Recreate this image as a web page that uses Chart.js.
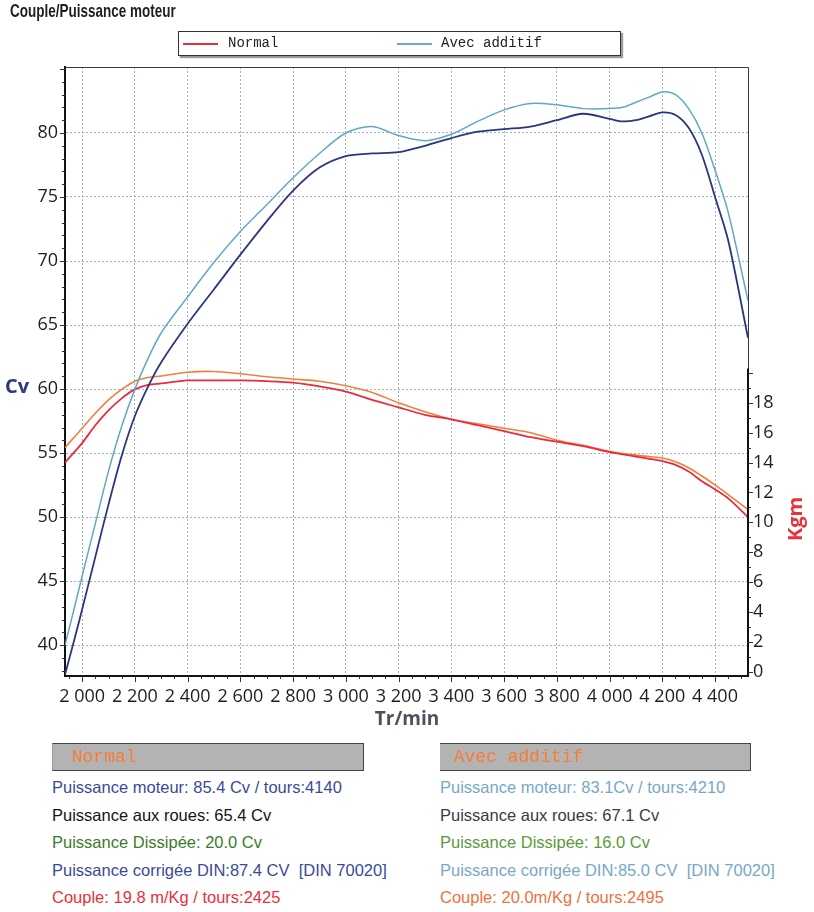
<!DOCTYPE html>
<html lang="fr">
<head>
<meta charset="utf-8">
<title>Couple/Puissance moteur</title>
<script src="https://cdn.jsdelivr.net/npm/chart.js@4.4.1/dist/chart.umd.min.js"></script>
<style>
  body { margin: 0; background: #fff; width: 814px; height: 912px; position: relative; overflow: hidden; font-family: "Liberation Sans", Arial, sans-serif; }
  #wrap { position: absolute; left: 0; top: 0; width: 814px; height: 740px; }
  #titre { position: absolute; left: 10px; top: 0px; font: bold 19px "Liberation Sans", sans-serif; color: #1e1e1e; transform: scaleX(0.71); transform-origin: left top; white-space: nowrap; }
  #legende { position: absolute; left: 178px; top: 31px; width: 441px; height: 23px; border: 1px solid #333; box-shadow: 2px 2px 1px #999; background: #fff; font: 14px "Liberation Mono", monospace; color: #222; }
  #legende .trait { position: absolute; top: 11px; width: 35px; height: 2px; }
  #legende .nom { position: absolute; top: 3px; }
  .bloc { position: absolute; top: 743px; width: 380px; }
  .entete { height: 26px; width: 310px; background: #b3b3b3; border: 1px solid #444; border-left-color: #999; font: 18px "Liberation Mono", monospace; color: #f5803a; line-height: 26px; }
  .ligne { font-size: 16.5px; line-height: 27.5px; white-space: nowrap; }
</style>
</head>
<body>
<div id="wrap"><canvas id="graphe"></canvas></div>
<div id="titre">Couple/Puissance moteur</div>
<div id="legende">
  <div class="trait" style="left:4px;background:#e8303c"></div><div class="nom" style="left:49px">Normal</div>
  <div class="trait" style="left:218px;background:#6ea9c8"></div><div class="nom" style="left:262px">Avec additif</div>
</div>
<div class="bloc" style="left:52px">
  <div class="entete"><span style="margin-left:19px">Normal</span></div>
  <div class="ligne" style="color:#3b4a98;margin-top:3px">Puissance moteur: 85.4 Cv / tours:4140</div>
  <div class="ligne" style="color:#141414">Puissance aux roues: 65.4 Cv</div>
  <div class="ligne" style="color:#3d7a2c">Puissance Dissipée: 20.0 Cv</div>
  <div class="ligne" style="color:#3b4a98">Puissance corrigée DIN:87.4 CV&nbsp; [DIN 70020]</div>
  <div class="ligne" style="color:#e8303c">Couple: 19.8 m/Kg / tours:2425</div>
</div>
<div class="bloc" style="left:440px">
  <div class="entete" style="border-left:none"><span style="margin-left:14px">Avec additif</span></div>
  <div class="ligne" style="color:#78a8c6;margin-top:3px">Puissance moteur: 83.1Cv / tours:4210</div>
  <div class="ligne" style="color:#3a3a48">Puissance aux roues: 67.1 Cv</div>
  <div class="ligne" style="color:#5a9a3a">Puissance Dissipée: 16.0 Cv</div>
  <div class="ligne" style="color:#78a8c6">Puissance corrigée DIN:85.0 CV&nbsp; [DIN 70020]</div>
  <div class="ligne" style="color:#f07040">Couple: 20.0m/Kg / tours:2495</div>
</div>
<script>
// regimes (tr/min)
const rpm = [1935, 1975, 2000, 2050, 2100, 2150, 2200, 2250, 2300, 2400, 2500, 2600, 2700, 2800, 2900, 3000,
  3100, 3200, 3300, 3400, 3500, 3600, 3700, 3800, 3900, 4000, 4050, 4100, 4150, 4200, 4250, 4300, 4350, 4400, 4450, 4525];

// puissance (Cv)
const puissanceNormal = [37.7, 40.8, 42.8, 46.9, 51.0, 54.8, 57.9, 60.2, 62.1, 65.1, 67.8, 70.5, 73.1, 75.5, 77.3, 78.2,
  78.4, 78.5, 79.0, 79.6, 80.1, 80.3, 80.5, 81.0, 81.5, 81.1, 80.9, 81.0, 81.3, 81.6, 81.4, 80.4, 78.3, 75.0, 71.6, 64.0];
const puissanceAdditif = [40.0, 43.3, 45.4, 49.5, 53.6, 57.1, 60.0, 62.4, 64.4, 67.2, 69.9, 72.3, 74.4, 76.5, 78.4, 80.0,
  80.5, 79.8, 79.4, 79.9, 80.9, 81.8, 82.3, 82.2, 81.9, 81.9, 82.0, 82.4, 82.8, 83.2, 83.0, 81.9, 80.0, 77.1, 73.8, 66.9];

// couple (Kgm)
const coupleNormal = [14.0, 14.8, 15.3, 16.5, 17.5, 18.3, 18.9, 19.2, 19.3, 19.5, 19.5, 19.5, 19.45, 19.35, 19.1, 18.75,
  18.2, 17.7, 17.2, 16.9, 16.5, 16.1, 15.7, 15.4, 15.1, 14.7, 14.55, 14.4, 14.25, 14.1, 13.85, 13.4, 12.75, 12.2, 11.6, 10.35];
const coupleAdditif = [15.0, 15.8, 16.3, 17.3, 18.2, 18.9, 19.45, 19.7, 19.8, 20.05, 20.1, 19.95, 19.75, 19.6, 19.45, 19.15,
  18.7, 18.0, 17.4, 16.9, 16.6, 16.3, 16.0, 15.5, 15.15, 14.75, 14.6, 14.5, 14.4, 14.3, 14.05, 13.65, 13.1, 12.5, 11.85, 10.85];

const rpmTicks = [2000, 2200, 2400, 2600, 2800, 3000, 3200, 3400, 3600, 3800, 4000, 4200, 4400];
const cvTicks = [40, 45, 50, 55, 60, 65, 70, 75, 80];
const kgmTicks = [0, 2, 4, 6, 8, 10, 12, 14, 16, 18];

const pts = arr => rpm.map((r, i) => ({ x: r, y: arr[i] }));
const milliers = v => String(v).replace(/\B(?=(\d{3})+$)/, ' ');

const decor = {
  id: 'decor',
  afterDraw(chart) {
    const { ctx, chartArea: a, scales } = chart;
    const x = scales.x, y = scales.y, y1 = scales.y1;
    ctx.save();
    // cadre haut et droite
    ctx.strokeStyle = '#3a3a3a';
    ctx.lineWidth = 1;
    ctx.beginPath();
    ctx.moveTo(a.left, a.top + 0.5);
    ctx.lineTo(a.right + 0.5, a.top + 0.5);
    ctx.lineTo(a.right + 0.5, a.bottom);
    ctx.stroke();
    // axe Kgm
    ctx.strokeStyle = '#111';
    ctx.lineWidth = 2;
    ctx.beginPath();
    ctx.moveTo(a.right, y1.getPixelForValue(20.3));
    ctx.lineTo(a.right, a.bottom);
    ctx.stroke();
    // petites graduations
    ctx.lineWidth = 1;
    ctx.strokeStyle = '#333';
    ctx.beginPath();
    for (let v = 38; v <= 85; v++) {
      const py = Math.round(y.getPixelForValue(v)) + 0.5;
      const len = v % 5 === 0 ? 5 : 3;
      ctx.moveTo(a.left - len, py); ctx.lineTo(a.left, py);
    }
    for (let v = 0; v <= 20; v++) {
      const py = Math.round(y1.getPixelForValue(v)) + 0.5;
      const len = v % 2 === 0 ? 5 : 3;
      ctx.moveTo(a.right, py); ctx.lineTo(a.right + len, py);
    }
    for (let v = 1950; v <= 4500; v += 50) {
      const px = Math.round(x.getPixelForValue(v)) + 0.5;
      const len = v % 200 === 0 ? 6 : 3;
      ctx.moveTo(px, a.bottom); ctx.lineTo(px, a.bottom + len);
    }
    ctx.stroke();
    // titres d'axes
    ctx.textBaseline = 'middle';
    ctx.font = 'bold 20px "Open Sans"';
    ctx.fillStyle = '#2c3a7c';
    ctx.textAlign = 'left';
    ctx.fillText('Cv', 5, 387);
    ctx.font = 'bold 19px "Open Sans"';
    ctx.fillStyle = '#50505c';
    ctx.textAlign = 'center';
    ctx.fillText('Tr/min', 407, 720);
    ctx.translate(796, 519);
    ctx.rotate(-Math.PI / 2);
    ctx.font = 'bold 20px "Open Sans"';
    ctx.fillStyle = '#e8333a';
    ctx.fillText('Kgm', 0, 0);
    ctx.restore();
  }
};

const tickFont = { family: 'Open Sans', size: 18 };

new Chart(document.getElementById('graphe'), {
  type: 'line',
  data: {
    datasets: [
      { label: 'Puissance Normal', data: pts(puissanceNormal), yAxisID: 'y', borderColor: '#2b3580', borderWidth: 1.8 },
      { label: 'Puissance Avec additif', data: pts(puissanceAdditif), yAxisID: 'y', borderColor: '#62a6c6', borderWidth: 1.5 },
      { label: 'Couple Normal', data: pts(coupleNormal), yAxisID: 'y1', borderColor: '#ec2a3c', borderWidth: 1.8 },
      { label: 'Couple Avec additif', data: pts(coupleAdditif), yAxisID: 'y1', borderColor: '#f0803c', borderWidth: 1.6 }
    ]
  },
  options: {
    responsive: true,
    maintainAspectRatio: false,
    animation: false,
    layout: { padding: { top: 67, left: 0, right: 0, bottom: 0 } },
    plugins: { legend: { display: false }, tooltip: { enabled: false } },
    elements: { point: { radius: 0 }, line: { tension: 0.3 } },
    scales: {
      x: {
        type: 'linear', min: 1935, max: 4525,
        afterBuildTicks: s => { s.ticks = rpmTicks.map(v => ({ value: v })); },
        afterFit: s => { s.height = 64; },
        grid: { color: '#a7acc6', lineWidth: 1, drawTicks: false },
        border: { color: '#111', width: 2, dash: [2, 2] },
        ticks: { font: tickFont, color: '#1e1e1e', padding: 10, maxRotation: 0, autoSkip: false, callback: v => milliers(v) }
      },
      y: {
        position: 'left', min: 37.6, max: 85.15,
        afterBuildTicks: s => { s.ticks = cvTicks.map(v => ({ value: v })); },
        afterFit: s => { s.width = 65; },
        grid: { color: '#a7acc6', lineWidth: 1, drawTicks: false },
        border: { color: '#111', width: 2, dash: [2, 2] },
        ticks: { font: tickFont, color: '#1e1e1e', padding: 7 }
      },
      y1: {
        position: 'right', min: -0.3, max: 40.5,
        afterBuildTicks: s => { s.ticks = kgmTicks.map(v => ({ value: v })); },
        afterFit: s => { s.width = 66; },
        grid: { display: false, drawTicks: false },
        border: { display: false },
        ticks: { font: tickFont, color: '#1e1e1e', padding: 5 }
      }
    }
  },
  plugins: [decor]
});
</script>
</body>
</html>
